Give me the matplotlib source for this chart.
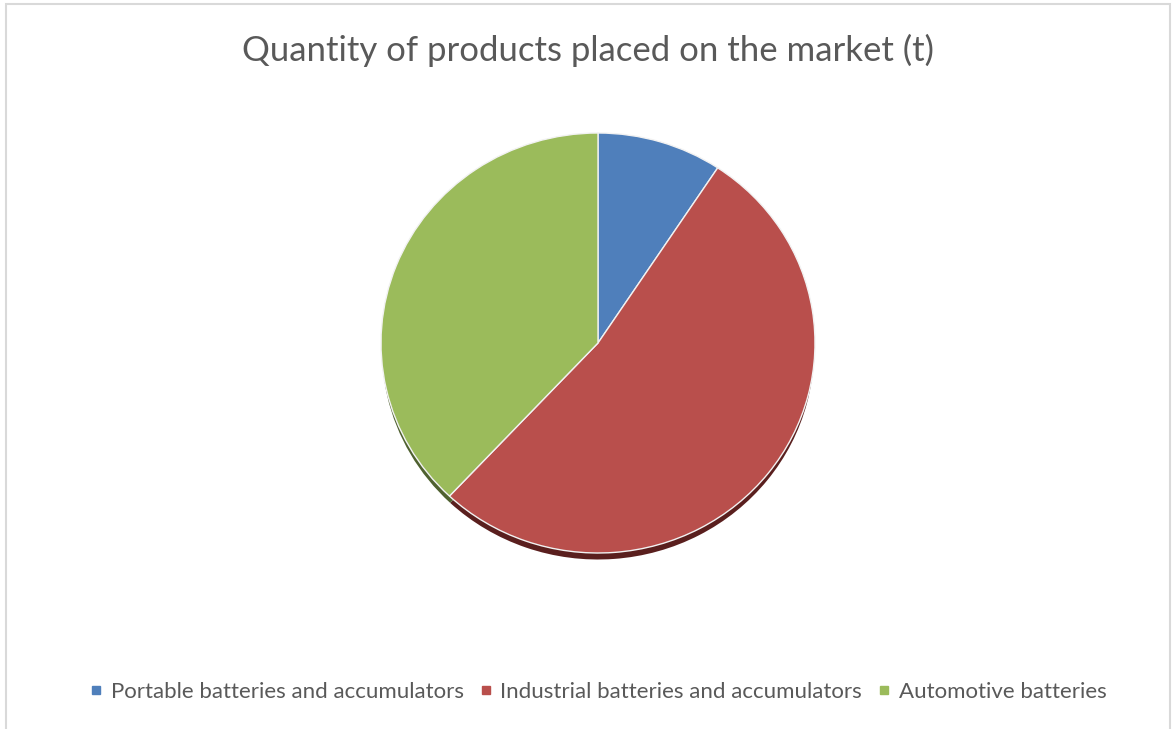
#!/usr/bin/env python3
"""Pie chart: quantity of batteries placed on the market (t)."""

import matplotlib.pyplot as plt
from matplotlib.lines import Line2D
from matplotlib.patches import Rectangle

CATEGORIES = [
    "Portable batteries and accumulators",
    "Industrial batteries and accumulators",
    "Automotive batteries",
]
SHARES = [9.3, 52.7, 38.0]
COLORS = ["#4F7FBB", "#B94F4C", "#9BBB5B"]
SHADOW_COLORS = ["#2E4A6E", "#5A1F1E", "#4F6130"]

TEXT_COLOR = "#595959"

plt.rcParams.update({"font.family": ["Lato", "DejaVu Sans"]})

W, H = 1176, 729
fig = plt.figure(figsize=(W / 100, H / 100), dpi=100)
fig.patch.set_facecolor("white")

# outer chart border like the spreadsheet chart area
fig.add_artist(Rectangle((6 / W, -0.01), 1164 / W, 1 - 4 / H + 0.01,
                         transform=fig.transFigure, fill=False,
                         edgecolor="#D9D9D9", linewidth=1.5))

# pie axes: slightly squashed vertically, as the reference pie is tilted
cx, cy, rx, ry = 598, 343, 217, 210
ax = fig.add_axes([(cx - rx) / W, (H - cy - ry) / H, 2 * rx / W, 2 * ry / H])

# a darker copy shifted down gives the bevel shadow along the lower rim
ax.pie(SHARES, colors=SHADOW_COLORS, startangle=90, counterclock=False,
       radius=0.995, center=(0.0, -0.036), frame=True)
ax.pie(SHARES, colors=COLORS, startangle=90, counterclock=False,
       radius=1.0, frame=True,
       wedgeprops={"edgecolor": "#F2F2F2", "linewidth": 1.0})
ax.set_aspect("auto")
ax.set_xlim(-1, 1)
ax.set_ylim(-1, 1)
ax.axis("off")

fig.text(0.5, 1 - 50 / H, "Quantity of products placed on the market (t)",
         ha="center", va="center", fontsize=25, color=TEXT_COLOR)

handles = [Line2D([], [], marker="s", linestyle="none", markersize=5.5,
                  markerfacecolor=c, markeredgecolor=c) for c in COLORS]
fig.legend(handles, CATEGORIES, loc="center",
           bbox_to_anchor=(0.5 + 9 / W, 1 - 692 / H),
           ncol=3, frameon=False, fontsize=16, labelcolor=TEXT_COLOR,
           handletextpad=0.25, columnspacing=0.6, handlelength=0.8)

fig.savefig("out.png", dpi=100, facecolor="white")
